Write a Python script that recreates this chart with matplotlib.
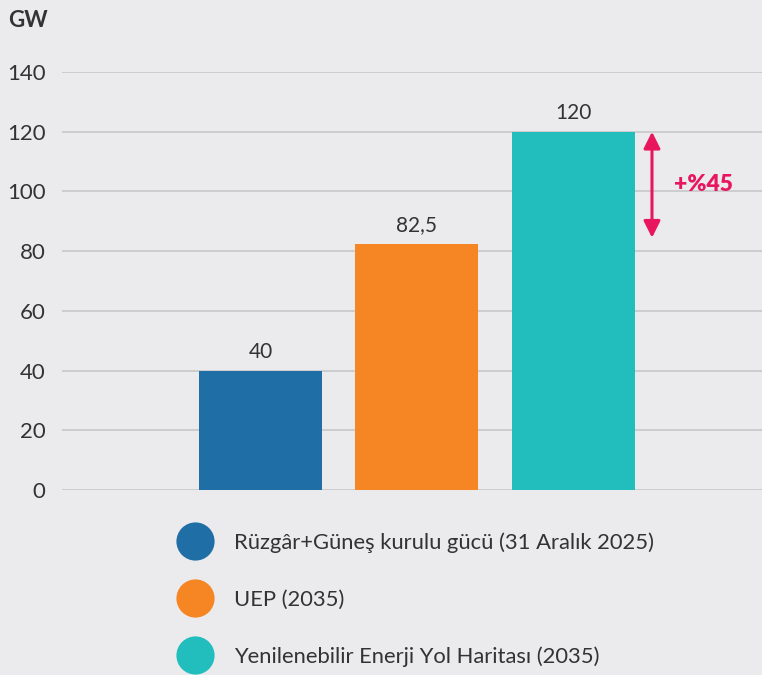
import matplotlib.pyplot as plt
from matplotlib.lines import Line2D

categories = ['Rüzgâr+Güneş kurulu gücü (31 Aralık 2025)',
              'UEP (2035)',
              'Yenilenebilir Enerji Yol Haritası (2035)']
values = [40, 82.5, 120]
value_labels = ['40', '82,5', '120']
colors = ['#1f6ea6', '#f58623', '#22bdbd']
yticks = [0, 20, 40, 60, 80, 100, 120, 140]
increase_label = '+%45'

bg = '#ebebee'
accent = '#e8175d'
text_col = '#333333'

plt.rcParams['font.family'] = ['Lato', 'DejaVu Sans']

fig = plt.figure(figsize=(7.62, 6.75), dpi=100, facecolor=bg)
ax = fig.add_axes([0.0814, 0.274, 0.9186, 0.6193], facecolor=bg)

x = list(range(len(values)))
bars = ax.bar(x, values, width=0.786, color=colors, zorder=3)
for xi, v, lab in zip(x, values, value_labels):
    ax.annotate(lab, (xi, v), xytext=(0, 6), textcoords='offset points',
                ha='center', va='bottom', fontsize=15, color=text_col)

ax.set_xlim(-1.268, 3.205)
ax.set_ylim(0, 140)
ax.set_yticks(yticks)
ax.set_xticks([])
ax.tick_params(axis='y', length=0, pad=12, labelsize=16, labelcolor=text_col)
ax.grid(axis='y', color='#c4c4c6', linewidth=1.1, zorder=0)
for s in ax.spines.values():
    s.set_visible(False)

# arrow between UEP and roadmap
ax.annotate('', xy=(2.502, values[1] + 2), xytext=(2.502, values[2]),
            arrowprops=dict(arrowstyle='<|-|>', color=accent, lw=2.2,
                            mutation_scale=25, shrinkA=0, shrinkB=0))
ax.text(2.64, (values[1] + values[2]) / 2 + 1, increase_label, color=accent,
        fontsize=16.5, fontweight='heavy', ha='left', va='center')

fig.text(0.011, 0.97, 'GW', fontsize=16, fontweight='bold', color=text_col,
         ha='left', va='center')

handles = [Line2D([], [], marker='o', linestyle='none', markersize=27.5,
                  markerfacecolor=c, markeredgecolor='none') for c in colors]
fig.legend(handles, categories, loc='upper left', bbox_to_anchor=(0.215, 0.224),
           frameon=False, fontsize=15.8, labelspacing=1.66, handletextpad=0.82,
           labelcolor=text_col, borderaxespad=0)

fig.savefig('out.png', dpi=100, facecolor=bg)
